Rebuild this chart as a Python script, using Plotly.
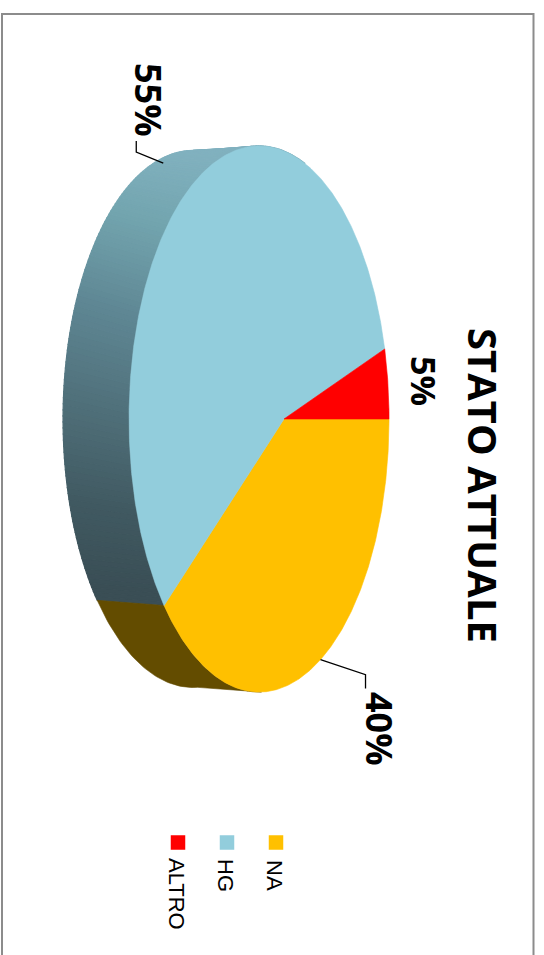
import math
import plotly.graph_objects as go

# ---- data ----
categories = ["NA", "HG", "ALTRO"]
values = [40, 55, 5]
labels = ["40%", "55%", "5%"]
colors = ["#FFC000", "#92CDDC", "#FF0000"]
title = "STATO ATTUALE"

# ---- projection of the tilted disc into page pixels ----
TOP = dict(x0=284.0, y0=419.0, a=125.2, b=268.0, p=0.192, shift=0.0)
BOT = dict(x0=225.7, y0=419.0, a=122.0, b=260.0, p=0.25, shift=2.5)
WALL_STOPS = [(150, (130, 178, 192)), (210, (115, 165, 175)), (300, (95, 135, 148)),
              (400, (80, 112, 122)), (500, (65, 90, 98)), (590, (58, 78, 85))]
WALL_VISIBLE = (100, 280)  # part of the rim that faces the viewer, in degrees


def proj(disc, deg):
    t = math.radians(deg + disc["shift"])
    u, v = math.cos(t), math.sin(t)
    w = 1 + disc["p"] * u
    return disc["x0"] + disc["a"] * u / w, disc["y0"] + disc["b"] * v / w


def arc(disc, d0, d1, step=1.0):
    n = max(2, int(abs(d1 - d0) / step))
    return [proj(disc, d0 + (d1 - d0) * i / n) for i in range(n + 1)]


def hg_wall_color(y):
    if y <= WALL_STOPS[0][0]:
        return "rgb(%d,%d,%d)" % WALL_STOPS[0][1]
    for (y0, c0), (y1, c1) in zip(WALL_STOPS, WALL_STOPS[1:]):
        if y <= y1:
            f = (y - y0) / (y1 - y0)
            return "rgb(%d,%d,%d)" % tuple(c0[i] + (c1[i] - c0[i]) * f for i in range(3))
    return "rgb(%d,%d,%d)" % WALL_STOPS[-1][1]


total = sum(values)
spans = []
acc = 0.0
for v in values:
    spans.append((acc * 360 / total, (acc + v) * 360 / total))
    acc += v

fig = go.Figure()


def poly(pts, color, lw=0.6):
    xs = [p[0] for p in pts] + [pts[0][0]]
    ys = [p[1] for p in pts] + [pts[0][1]]
    fig.add_trace(go.Scatter(x=xs, y=ys, mode="lines", fill="toself", fillcolor=color,
                             line=dict(color=color, width=lw), hoverinfo="skip", showlegend=False))


# side wall: HG part as thin gradient strips, NA part flat
hg0, hg1 = spans[1][0], min(spans[1][1], WALL_VISIBLE[1])
WALL_STEP = 1
d = hg0
while d < hg1:
    e = min(d + WALL_STEP, hg1)
    pts = [proj(TOP, d), proj(TOP, e), proj(BOT, e), proj(BOT, d)]
    poly(pts, hg_wall_color(proj(BOT, (d + e) / 2)[1]), lw=1.2)
    d = e
na1 = spans[0][1]
poly(arc(TOP, WALL_VISIBLE[0], na1) + arc(BOT, na1, WALL_VISIBLE[0]), "#634C00")

# top face
for (d0, d1), c in zip(spans, colors):
    poly([(TOP["x0"], TOP["y0"])] + arc(TOP, d0, d1, 0.5), c)

# legend markers
LEGEND_X = {"NA": 276, "HG": 227, "ALTRO": 178}
fig.add_trace(go.Scatter(x=[LEGEND_X[c] for c in categories], y=[842.5] * 3, mode="markers",
                         marker=dict(symbol="square", size=14.5, color=colors, line=dict(width=0)),
                         hoverinfo="skip", showlegend=False))

ann = []


def rot_text(x, y, text, size, bold=False, family="Open Sans"):
    ann.append(dict(x=x, y=y, text="<b>%s</b>" % text if bold else text, showarrow=False,
                    textangle=90, xref="x", yref="y", xanchor="center", yanchor="middle",
                    font=dict(family=family, size=size, color="#000000")))


rot_text(484, 485, title, 40, bold=True)
rot_text(380, 729, labels[0], 36, bold=True)
rot_text(149, 100, labels[1], 36, bold=True)
rot_text(424, 381, labels[2], 34, bold=True)
for c in categories:
    text_y = {"NA": 875, "HG": 875, "ALTRO": 894}[c]
    rot_text(LEGEND_X[c] - 1, text_y, c, 22, family="Liberation Sans")

shapes = [dict(type="rect", xref="x", yref="y", x0=2, y0=14, x1=533.5, y1=975,
               line=dict(color="#8C8C8C", width=2), fillcolor="rgba(0,0,0,0)", layer="below")]

# leader lines start on the slice's mid angle
mid_na = sum(spans[0]) / 2
mid_hg = sum(spans[1]) / 2
sx, sy = proj(TOP, mid_na)
fig.add_trace(go.Scatter(x=[sx, sx + 45, sx + 45], y=[sy, sy + 15, sy + 29], mode="lines",
                         line=dict(color="#000000", width=1.3), hoverinfo="skip", showlegend=False))
sx, sy = proj(BOT, mid_hg)
fig.add_trace(go.Scatter(x=[sx - 6, sx - 33, sx - 33], y=[sy + 8, sy - 3, sy - 14], mode="lines",
                         line=dict(color="#000000", width=1.3), hoverinfo="skip", showlegend=False))

fig.update_layout(
    width=544, height=955, margin=dict(l=0, r=0, t=0, b=0),
    paper_bgcolor="#FFFFFF", plot_bgcolor="#FFFFFF", showlegend=False,
    xaxis=dict(range=[0, 544], visible=False, fixedrange=True),
    yaxis=dict(range=[955, 0], visible=False, fixedrange=True),
    annotations=ann, shapes=shapes,
)
fig.write_html("out.html", config=dict(displayModeBar=False),
               post_script="document.body.style.margin='0';document.body.style.overflow='hidden';")
